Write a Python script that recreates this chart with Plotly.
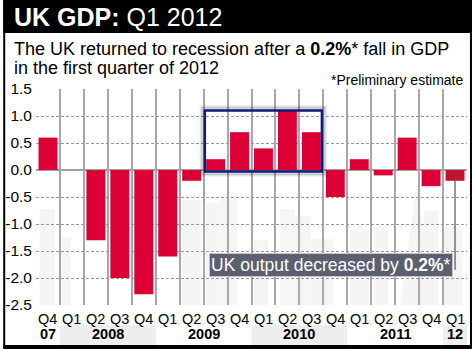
import plotly.graph_objects as go

# Quarterly change in UK GDP, %
quarters = ["Q4", "Q1", "Q2", "Q3", "Q4", "Q1", "Q2", "Q3", "Q4",
            "Q1", "Q2", "Q3", "Q4", "Q1", "Q2", "Q3", "Q4", "Q1"]
growth = [0.6, 0.0, -1.3, -2.0, -2.3, -1.6, -0.2, 0.2, 0.7,
          0.4, 1.1, 0.7, -0.5, 0.2, -0.1, 0.6, -0.3, -0.2]
year_labels = ["07", "2008", "2009", "2010", "2011", "12"]
year_pos = [0, 2.5, 6.5, 10.5, 14.5, 17]
y_ticks = [1.5, 1.0, 0.5, 0.0, -0.5, -1.0, -1.5, -2.0, -2.5]

W, H = 472, 349
L, R, T, B = 33, 5, 89, 44
PW, PH = W - L - R, H - T - B

FONT = "Liberation Sans, Arial, Helvetica, sans-serif"
RED = "#dc0036"
RED_LATEST = "#bf1530"


def px(x):
    return (x - L) / PW


def py(y):
    return (H - B - y) / PH


x_idx = list(range(len(quarters)))
bar_colors = [RED] * (len(growth) - 1) + [RED_LATEST]

fig = go.Figure()
fig.add_trace(go.Bar(
    x=x_idx, y=growth, marker=dict(color=bar_colors, line_width=0),
    width=0.79, hoverinfo="skip",
))

shapes = []

# faint skyline silhouette behind the bars
sky = "#f5f5f5"
skyline = [(-0.35, 0.3, -0.72), (0.55, 0.95, -1.25), (5.6, 6.4, -0.55),
           (6.6, 7.2, -0.62), (7.2, 7.9, -0.45), (8.6, 9.2, -1.3),
           (9.7, 10.3, -0.72), (10.3, 11.0, -0.85), (11.0, 11.9, -1.28),
           (12.6, 13.4, -1.1), (13.6, 14.2, -1.05), (15.7, 16.3, -0.75),
           (16.5, 17.3, -1.05)]
for x0, x1, top in skyline:
    shapes.append(dict(type="rect", xref="x", yref="y", x0=x0, x1=x1,
                       y0=-2.5, y1=top, fillcolor=sky, line_width=0,
                       layer="below"))
shapes.append(dict(type="path", xref="x", yref="y",
                   path="M 14.7,-2.5 L 15.4,-0.25 L 16.1,-2.5 Z",
                   fillcolor=sky, line_width=0, layer="below"))

# header band
shapes.append(dict(type="rect", xref="paper", yref="paper",
                   x0=px(0), x1=px(W), y0=py(33), y1=py(0),
                   fillcolor="black", line_width=0))

# shaded year bands under the axis
for x0, x1 in [(0.5, 4.5), (8.5, 12.5), (16.5, 17.62)]:
    shapes.append(dict(type="rect", xref="x", yref="paper", x0=x0, x1=x1,
                       y0=py(345), y1=py(325), fillcolor="#eeeeee",
                       line_width=0, layer="below"))

# highlight box around the 2009-2010 recovery, with a soft shadow
for off, col in [(4, "rgba(0,0,0,0.05)"), (3, "rgba(0,0,0,0.07)"),
                 (2, "rgba(0,0,0,0.10)")]:
    shapes.append(dict(type="rect", xref="x", yref="y",
                       x0=6.55 - off / 24.1, x1=11.44 + off / 24.1,
                       y0=-0.03 - off / 54, y1=1.1 + off / 54,
                       line=dict(color=col, width=3)))
shapes.append(dict(type="rect", xref="x", yref="y", x0=6.55, x1=11.44,
                   y0=-0.03, y1=1.1, line=dict(color="#0d1a80", width=2.5)))

# leader line from the latest quarter to its callout
shapes.append(dict(type="line", xref="x", yref="y", x0=17, x1=17,
                   y0=growth[-1], y1=-1.85,
                   line=dict(color="#333333", width=1)))

# outer frame
shapes.append(dict(type="rect", xref="paper", yref="paper",
                   x0=px(1), x1=px(W - 1), y0=py(H - 2), y1=py(1),
                   line=dict(color="black", width=2)))
shapes.append(dict(type="rect", xref="paper", yref="paper",
                   x0=px(0), x1=px(W), y0=py(H), y1=py(345),
                   fillcolor="black", line_width=0))

annotations = [
    dict(text="<b>UK GDP:</b> Q1 2012", x=px(9), y=py(17),
         xanchor="left", yanchor="middle",
         font=dict(size=25, color="white", family=FONT)),
    dict(text="The UK returned to recession after a <b>0.2%</b>* fall in GDP",
         x=px(9), y=py(48.5), xanchor="left", yanchor="middle",
         font=dict(size=18, color="black", family=FONT)),
    dict(text="in the first quarter of 2012", x=px(9), y=py(67.5),
         xanchor="left", yanchor="middle",
         font=dict(size=18, color="black", family=FONT)),
    dict(text="*Preliminary estimate", x=px(465), y=py(79.5),
         xanchor="right", yanchor="middle",
         font=dict(size=14, color="black", family=FONT)),
]
for a in annotations:
    a.update(xref="paper", yref="paper", showarrow=False)

for q, i in zip(quarters, x_idx):
    annotations.append(dict(text=q, x=i, y=py(318.5), xref="x",
                            yref="paper", showarrow=False,
                            xanchor="center", yanchor="middle",
                            font=dict(size=14.5, color="black", family=FONT)))
for lab, pos in zip(year_labels, year_pos):
    annotations.append(dict(text=f"<b>{lab}</b>", x=pos, y=py(333.5),
                            xref="x", yref="paper", showarrow=False,
                            xanchor="center", yanchor="middle",
                            font=dict(size=14.5, color="black", family=FONT)))

annotations.append(dict(
    text="UK output decreased by <b>0.2%</b>*", x=16.91, y=-1.76,
    xref="x", yref="y", xanchor="right", yanchor="middle", showarrow=False,
    bgcolor="#5a6070", bordercolor="#c8c8cc", borderwidth=1, borderpad=1,
    font=dict(size=17.5, color="white", family=FONT)))

fig.update_layout(
    width=W, height=H,
    margin=dict(l=L, r=R, t=T, b=B, pad=0),
    paper_bgcolor="white", plot_bgcolor="white",
    showlegend=False,
    shapes=shapes, annotations=annotations,
    xaxis=dict(range=[-0.5, 17.5], tickvals=x_idx, showticklabels=False,
               showgrid=False, zeroline=False, ticks="", fixedrange=True,
               minor=dict(tick0=-0.5, dtick=1, showgrid=True,
                          gridcolor="#a8a8a8", gridwidth=1.5)),
    yaxis=dict(range=[-2.5, 1.5], tickvals=y_ticks,
               ticktext=[f"{v:.1f}" for v in y_ticks],
               showgrid=True, gridcolor="#9a9a9a", gridwidth=1,
               griddash="3px,2px", zeroline=True, zerolinecolor="#a0a0a0",
               zerolinewidth=1.5, ticks="", ticklabelstandoff=3,
               tickfont=dict(size=15.5, color="black", family=FONT),
               fixedrange=True),
)

fig.write_html("out.html")
